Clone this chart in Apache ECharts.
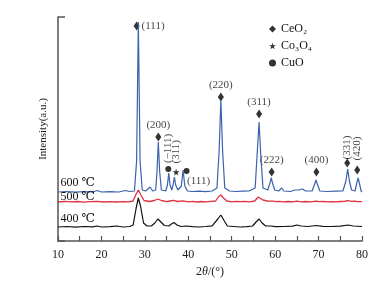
<!DOCTYPE html>
<html>
<head>
<meta charset="utf-8">
<script src="https://cdn.jsdelivr.net/npm/echarts@6/dist/echarts.min.js"></script>
<style>
  html, body { margin: 0; padding: 0; background: #fff; }
  #chart { width: 392px; height: 285px; }
</style>
</head>
<body>
<div id="chart"></div>
<script>
// XRD patterns, intensity in arbitrary units (curves offset vertically)
const xrd400 = [[10,14],[12,14.5],[14,13.8],[16,14.5],[18,14.2],[19,15],[20,14],[22,14.3],[23.5,15],[25,14],[26.5,14.5],[27.3,16],[28,33],[28.5,43],[29,35],[29.7,18],[30.5,15],[31.5,15],[32.3,18],[33,22],[33.7,19],[34.5,15.5],[35.5,15],[36.1,17],[36.7,18.5],[37.4,16],[38.3,14.5],[39.5,15],[41,14.3],[42.5,14],[44,14.5],[45.5,15.2],[46.8,22],[47.5,26],[48.3,20],[49,15],[50.5,14.5],[52,14],[53.5,14.3],[54.8,15],[55.6,19],[56.3,22],[57,18],[57.8,15],[59,15],[60,14.3],[62,14.5],[64,14.8],[65,16],[66,15],[67.5,14.5],[69.5,15.5],[71,14.7],[73,14.5],[75,14.8],[76.8,16],[78,15],[80,14.5]];

const xrd500 = [[10,39],[11.5,39.6],[13,39.1],[14.5,39.5],[16,38.8],[17.5,39.4],[19,39.6],[20.5,39],[22,39.4],[23.5,39],[25,39.4],[26.3,39.1],[27.3,40],[28,47],[28.5,51],[29.1,46],[29.8,40.5],[31,39.5],[32.2,40.5],[33,42],[33.8,40.5],[35,39.3],[35.8,40],[36.6,40.6],[37.5,39.5],[38.8,40.2],[40,39.2],[41,39.6],[42,39],[43,39.5],[44,39.1],[45.2,39.6],[46.3,40],[47,44.5],[47.5,46],[48.1,43],[48.9,40],[50,39.2],[51,39.7],[52,39.3],[53,39.6],[54,39.2],[55.3,40],[56.1,44],[56.5,43.5],[57.2,41],[58.2,40],[59.5,39.8],[60.3,39.3],[61,39.7],[62,39.2],[63,39.5],[64,39.1],[65,39.8],[66,39.2],[67,39.5],[68.2,39.2],[69.4,39.9],[70.2,39.3],[71,39.5],[72,39.1],[73,39.4],[74,39.1],[75,39.5],[76,39.7],[76.8,40.5],[77.5,39.6],[78.3,39.8],[79,39.3],[80,39.3]];

const xrd600 = [[10,49],[12,49.5],[14,48.8],[16,49.3],[18,49],[19,50.5],[20,49],[22,49.3],[24,49],[25.5,50.5],[26.5,49.5],[27.6,50],[28.1,80],[28.5,219],[28.9,80],[29.4,51],[30.2,50],[31.2,54],[31.8,50],[32.5,51],[32.8,70],[33.1,99],[33.4,70],[33.8,51],[34.8,50],[35.2,56],[35.5,68],[35.8,56],[36.2,51],[36.5,56],[36.8,64],[37.1,56],[37.6,51],[38.4,55],[38.8,71],[39.2,55],[39.8,50],[41,49.5],[42.5,49.8],[44,49.3],[45.5,50],[46.6,53],[47.1,90],[47.5,141],[47.9,90],[48.4,53],[49.5,50],[51,49.5],[52.5,49.8],[54,50],[55.4,53],[55.9,90],[56.3,119],[56.7,85],[57.2,53],[58.3,51],[58.8,58],[59.1,63],[59.4,58],[59.9,51],[60.8,50],[61.5,53],[62,50],[63.5,49.5],[64.6,51],[65,53],[65.4,51],[66.3,52],[67,50],[68.5,50],[69.1,57],[69.4,61],[69.7,57],[70.3,50],[72,49.5],[74,49.8],[75.6,50],[76.3,60],[76.7,72],[77.1,60],[77.6,51],[78.4,50],[78.8,58],[79.1,63],[79.4,58],[79.8,50],[80,49]];

// phase markers: [2theta, intensity]
const ceo2Marks = [[28.1,215],[33.1,104],[47.5,144],[56.3,127],[59.2,69],[69.5,69],[76.6,78],[78.9,71]];
const ceo2Labels = ['(111)','(200)','(220)','(311)','(222)','(400)','(331)','(420)'];
const co3o4Marks = [[37.2,69]];
const co3o4Labels = ['(311)'];
const cuoMarks = [[35.4,72],[39.6,70]];
const cuoLabels = ['(\u2212111)','(111)'];

const tempLabels = ['400 \u2103','500 \u2103','600 \u2103'];
const tempLabelPos = [[10.6,22],[10.6,44],[10.6,58]];

const serif = '"Liberation Serif", "DejaVu Serif", serif';
const starPath = 'path://M50,0 L61,35 L98,35 L68,57 L79,91 L50,70 L21,91 L32,57 L2,35 L39,35 Z';

// label placement per annotation
const upright = { position: 'top', distance: 2 };
const vertical = { position: 'top', rotate: 90, align: 'left', verticalAlign: 'middle', distance: 3 };
const ceo2LabelStyle = [
  { position: 'right', distance: 2 },
  upright, upright, upright, upright, upright,
  Object.assign({}, vertical, { offset: [-4, 0] }),
  Object.assign({}, vertical, { offset: [2, 0] })
];
const co3o4LabelStyle = [Object.assign({}, vertical, { offset: [2, 0] })];
const cuoLabelStyle = [
  vertical,
  { position: 'bottom', distance: 0, offset: [12, 2] }
];

function marks(points, labels, styles) {
  return points.map((p, i) => ({
    value: p,
    label: Object.assign({ show: true, formatter: labels[i] }, styles[i])
  }));
}

function tempPoint(i) {
  return {
    coord: tempLabelPos[i],
    symbolSize: 0,
    label: { show: true, position: 'right', distance: 0, formatter: tempLabels[i], color: '#111', fontFamily: serif, fontSize: 12 }
  };
}

const chart = echarts.init(document.getElementById('chart'));
chart.setOption({
  animation: false,
  backgroundColor: '#fff',
  grid: { left: 58, right: 30, top: 17, bottom: 44 },
  legend: {
    orient: 'vertical',
    left: 264,
    top: 18,
    itemGap: 5,
    itemWidth: 7,
    itemHeight: 7,
    textStyle: { fontFamily: serif, fontSize: 12, color: '#111' },
    data: ['CeO\u2082', 'Co\u2083O\u2084', 'CuO']
  },
  xAxis: {
    type: 'value',
    min: 10,
    max: 80,
    interval: 5,
    name: '2{i|\u03b8}/(\u00b0)',
    nameLocation: 'middle',
    nameGap: 24,
    nameTextStyle: {
      fontFamily: serif, fontSize: 12, color: '#222',
      rich: { i: { fontFamily: serif, fontSize: 12, fontStyle: 'italic', color: '#222' } }
    },
    axisLine: { lineStyle: { color: '#555', width: 1.5 } },
    axisTick: { inside: true, length: 5, lineStyle: { color: '#555', width: 1.2 } },
    axisLabel: {
      interval: 1,
      margin: 8,
      fontFamily: serif, fontSize: 12, color: '#222',
      formatter: v => (v % 10 === 0 ? v : '')
    },
    splitLine: { show: false }
  },
  yAxis: {
    type: 'value',
    min: 0,
    max: 224,
    interval: 224,
    name: 'Intensity(a.u.)',
    nameLocation: 'middle',
    nameGap: 9,
    nameTextStyle: { fontFamily: serif, fontSize: 11, color: '#222' },
    axisLine: { show: true, lineStyle: { color: '#555', width: 1.5 } },
    axisTick: { show: true, inside: true, length: 7, lineStyle: { color: '#555', width: 1.5 } },
    axisLabel: { show: false },
    splitLine: { show: false }
  },
  series: [
    {
      name: '400', type: 'line', data: xrd400, showSymbol: false,
      lineStyle: { color: '#111', width: 1.2 }, itemStyle: { color: '#111' },
      markPoint: { data: [tempPoint(0)] }
    },
    {
      name: '500', type: 'line', data: xrd500, showSymbol: false,
      lineStyle: { color: '#e2313d', width: 1.3 }, itemStyle: { color: '#e2313d' },
      markPoint: { data: [tempPoint(1)] }
    },
    {
      name: '600', type: 'line', data: xrd600, showSymbol: false,
      lineStyle: { color: '#3b62ad', width: 1.2 }, itemStyle: { color: '#3b62ad' },
      markPoint: { data: [tempPoint(2)] }
    },
    {
      name: 'CeO\u2082', type: 'scatter', symbol: 'diamond', symbolSize: [6, 9],
      itemStyle: { color: '#000' },
      label: { fontFamily: serif, fontSize: 11, color: '#111' },
      data: marks(ceo2Marks, ceo2Labels, ceo2LabelStyle)
    },
    {
      name: 'Co\u2083O\u2084', type: 'scatter', symbol: starPath, symbolSize: 7,
      itemStyle: { color: '#000' },
      label: { fontFamily: serif, fontSize: 11, color: '#111' },
      data: marks(co3o4Marks, co3o4Labels, co3o4LabelStyle)
    },
    {
      name: 'CuO', type: 'scatter', symbol: 'circle', symbolSize: 6,
      itemStyle: { color: '#000' },
      label: { fontFamily: serif, fontSize: 11, color: '#111' },
      data: marks(cuoMarks, cuoLabels, cuoLabelStyle)
    }
  ]
});
</script>
</body>
</html>
